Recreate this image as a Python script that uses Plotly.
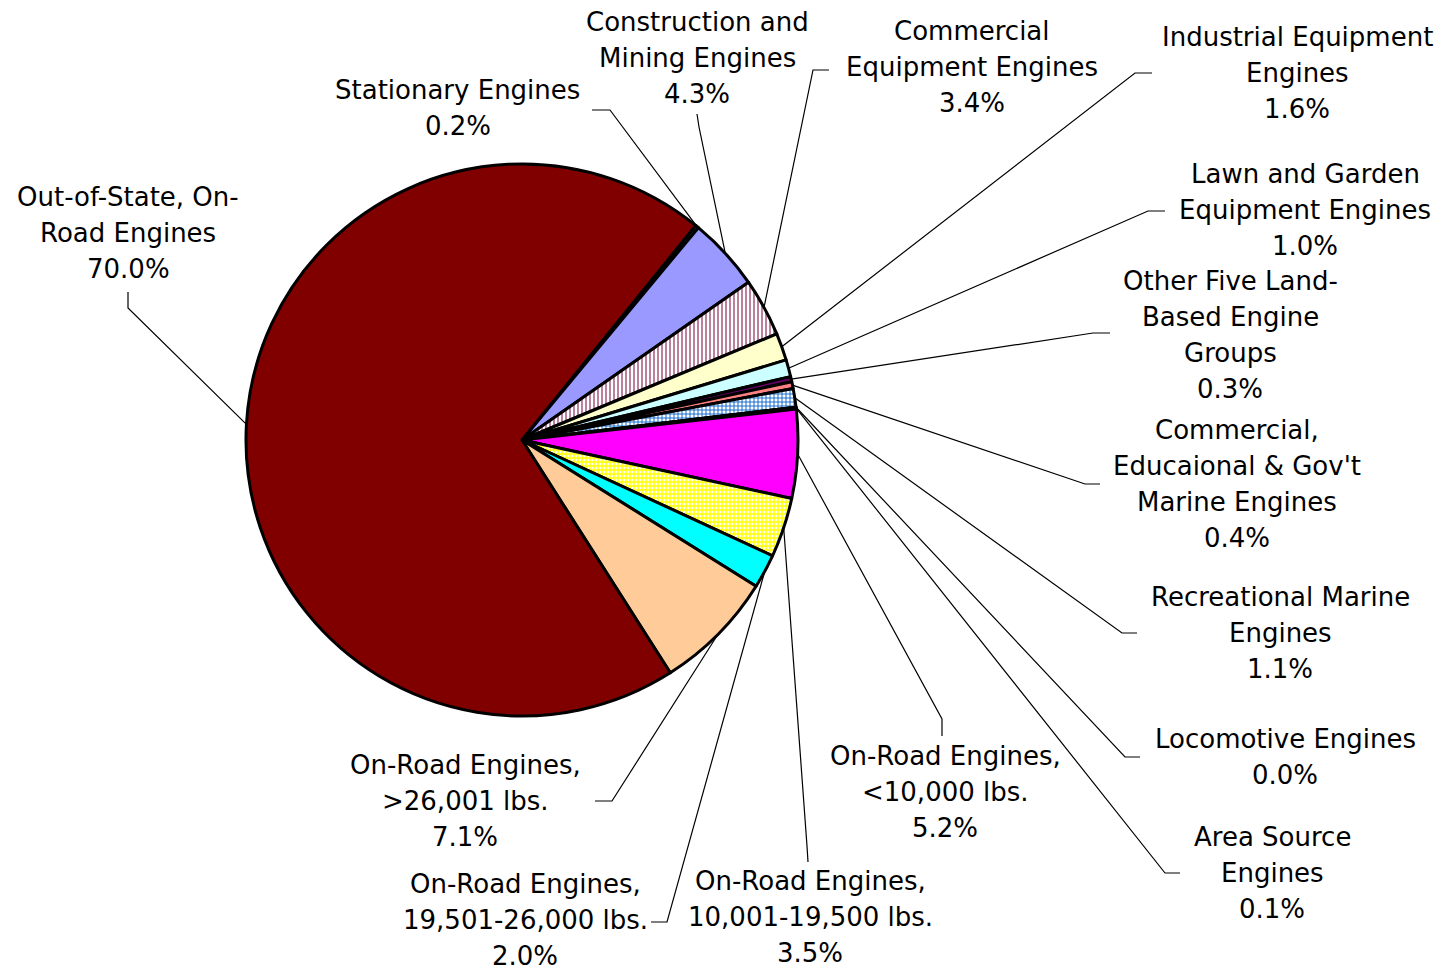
import math
import plotly.graph_objects as go

# ---------------- data ----------------
categories = [
    "Stationary Engines",
    "Construction and Mining Engines",
    "Commercial Equipment Engines",
    "Industrial Equipment Engines",
    "Lawn and Garden Equipment Engines",
    "Other Five Land-Based Engine Groups",
    "Commercial, Educaional & Gov't Marine Engines",
    "Recreational Marine Engines",
    "Locomotive Engines",
    "Area Source Engines",
    "On-Road Engines, <10,000 lbs.",
    "On-Road Engines, 10,001-19,500 lbs.",
    "On-Road Engines, 19,501-26,000 lbs.",
    "On-Road Engines, >26,001 lbs.",
    "Out-of-State, On-Road Engines",
]
shares = [0.2, 4.3, 3.4, 1.6, 1.0, 0.3, 0.4, 1.1, 0.0, 0.1, 5.2, 3.5, 2.0, 7.1, 70.0]

# ---------------- styles / layout ----------------
label_lines = [
    ["Stationary Engines"],
    ["Construction and", "Mining Engines"],
    ["Commercial", "Equipment Engines"],
    ["Industrial Equipment", "Engines"],
    ["Lawn and Garden", "Equipment Engines"],
    ["Other Five Land-", "Based Engine", "Groups"],
    ["Commercial,", "Educaional &amp; Gov't", "Marine Engines"],
    ["Recreational Marine", "Engines"],
    ["Locomotive Engines"],
    ["Area Source", "Engines"],
    ["On-Road Engines,", "&lt;10,000 lbs."],
    ["On-Road Engines,", "10,001-19,500 lbs."],
    ["On-Road Engines,", "19,501-26,000 lbs."],
    ["On-Road Engines,", "&gt;26,001 lbs."],
    ["Out-of-State, On-", "Road Engines"],
]
slice_colors = ["#008080", "#9999FF", "#F0BCD6", "#FFFFCC", "#CCFFFF", "#660066",
                "#FF8080", "#FFFFFF", "#3366CC", "#A6A6D2", "#FF00FF", "#FFFFFF",
                "#00FFFF", "#FFCC99", "#800000"]
pat_shape = ["", "", "|", "", "", "", "", "+", "", "", "", "+", "", "", ""]
pat_fg = ["#000000"] * 15
pat_fg[2] = "#9E4A74"
pat_fg[7] = "#1F6FD0"
pat_fg[11] = "#FFFF00"
pat_solidity = [0.5] * 15
pat_solidity[2] = 0.35
pat_solidity[7] = 0.45
pat_solidity[11] = 0.6

# label block centers (pixels) and leader line geometry: [end at label, elbow]
label_pos = [(458, 108), (697, 58), (972, 67), (1297, 73), (1305, 210),
             (1230, 335), (1237, 484), (1280, 633), (1285, 757), (1272, 873),
             (945, 792), (810, 917), (525, 920), (465, 801), (128, 233)]
leader_pts = [
    [(592, 110), (610, 110)],
    [(697, 114), (699, 127)],
    [(829, 70), (813, 70)],
    [(1152, 73), (1135, 73)],
    [(1165, 211), (1148, 211)],
    [(1110, 333), (1093, 333)],
    [(1100, 484), (1085, 484)],
    [(1137, 633), (1122, 633)],
    [(1140, 757), (1125, 757)],
    [(1180, 873), (1165, 873)],
    [(942, 736), (942, 719)],
    [(808, 862), (807, 846)],
    [(651, 922), (667, 922)],
    [(595, 801), (612, 801)],
    [(128, 292), (128, 308)],
]
LINE_PITCH = 36

W, H = 1443, 975
OFF = 8  # page body margin
FW, FH = W - OFF, H - OFF
CX, CY, R = 522, 440, 276
ROT = 39.0
FONT = "DejaVu Sans"
FSIZE = 26


def px(x):
    return (x - OFF) / FW


def py(y):
    return 1 - (y - OFF) / FH


fig = go.Figure()
fig.add_trace(go.Pie(
    labels=categories,
    values=shares,
    sort=False,
    direction="clockwise",
    rotation=ROT,
    textinfo="none",
    hoverinfo="label+percent",
    marker=dict(
        colors=slice_colors,
        line=dict(color="black", width=3),
        pattern=dict(shape=pat_shape, fgcolor=pat_fg, size=4,
                     solidity=pat_solidity, fillmode="replace"),
    ),
    domain=dict(x=[px(CX - R), px(CX + R)], y=[py(CY + R), py(CY - R)]),
    showlegend=False,
))

annotations = []
shapes = []
total = sum(shares)
cum = 0.0
for i, v in enumerate(shares):
    mid = math.radians(ROT + (cum + v / 2) / total * 360)
    cum += v
    ax = CX + R * math.sin(mid)
    ay = CY - R * math.cos(mid)
    lines = label_lines[i] + [f"{v:.1f}%"]
    lx, ly = label_pos[i]
    n = len(lines)
    for k, line in enumerate(lines):
        yy = ly + (k - (n - 1) / 2) * LINE_PITCH
        annotations.append(dict(
            x=px(lx), y=py(yy), xref="paper", yref="paper",
            text=line, showarrow=False, align="center",
            xanchor="center", yanchor="middle",
            font=dict(family=FONT, size=FSIZE, color="black"),
        ))
    (ex, ey), (bx, by) = leader_pts[i]
    path = (f"M {px(ex)} {py(ey)} L {px(bx)} {py(by)} "
            f"L {px(ax)} {py(ay)}")
    shapes.append(dict(type="path", path=path, xref="paper", yref="paper",
                       line=dict(color="black", width=1.2)))

fig.update_layout(
    width=FW, height=FH,
    margin=dict(l=0, r=0, t=0, b=0),
    paper_bgcolor="white",
    plot_bgcolor="white",
    showlegend=False,
    annotations=annotations,
    shapes=shapes,
)

fig.write_html("out.html")
